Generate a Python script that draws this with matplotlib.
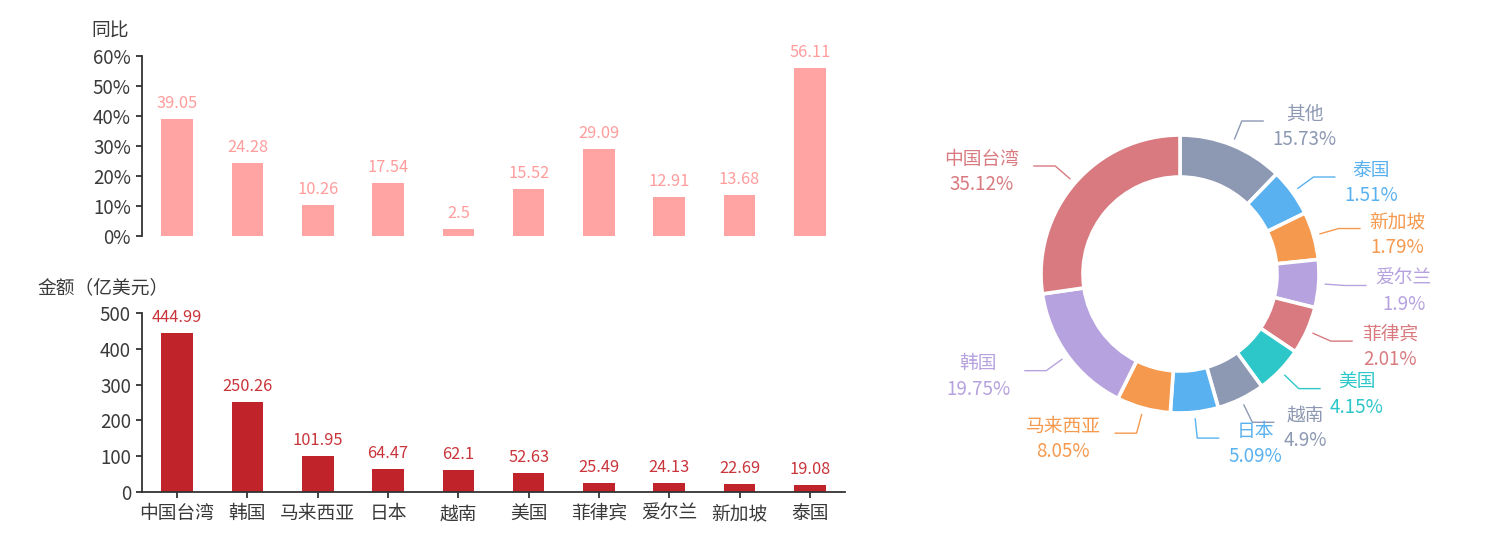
import numpy as np
import matplotlib
matplotlib.use("Agg")
import matplotlib.pyplot as plt

plt.rcParams['font.family'] = ['Noto Sans CJK SC', 'DejaVu Sans']

# ---------------- data ----------------
countries = ['中国台湾', '韩国', '马来西亚', '日本', '越南', '美国', '菲律宾', '爱尔兰', '新加坡', '泰国']
yoy = [39.05, 24.28, 10.26, 17.54, 2.5, 15.52, 29.09, 12.91, 13.68, 56.11]
amount = [444.99, 250.26, 101.95, 64.47, 62.1, 52.63, 25.49, 24.13, 22.69, 19.08]

yoy_ticks = [0, 10, 20, 30, 40, 50, 60]
amount_ticks = [0, 100, 200, 300, 400, 500]

pie_names = ['其他', '泰国', '新加坡', '爱尔兰', '菲律宾', '美国', '越南', '日本', '马来西亚', '韩国', '中国台湾']
pie_share = [15.73, 1.51, 1.79, 1.9, 2.01, 4.15, 4.9, 5.09, 8.05, 19.75, 35.12]
pie_colors = ['#8d98b3', '#5ab1ef', '#f5994e', '#b6a2de', '#d87a80', '#2ec7c9',
              '#8d98b3', '#5ab1ef', '#f5994e', '#b6a2de', '#d87a80']

# ---------------- style ----------------
W, H = 1492, 547
DPI = 100
AX_COLOR = '#333333'
TXT_COLOR = '#3a3a3a'
PINK = '#ffa3a3'
PINK_TXT = '#ff9c9c'
RED = '#c1232b'
RED_TXT = '#c9353b'
TICK_FS = 13.5
VAL_FS = 11.8
PIE_FS = 13.5

fig = plt.figure(figsize=(W / DPI, H / DPI), dpi=DPI)
fig.patch.set_facecolor('white')


def px_box(left, top, right, bottom):
    return [left / W, 1 - bottom / H, (right - left) / W, (bottom - top) / H]


x = np.arange(len(countries))

# ---------------- top bar chart (同比) ----------------
ax1 = fig.add_axes(px_box(142, 56, 845, 236))
ax1.bar(x, yoy, width=0.45, color=PINK, zorder=2)
ax1.set_xlim(-0.5, len(countries) - 0.5)
ax1.set_ylim(0, 60)
ax1.set_yticks(yoy_ticks)
ax1.set_yticklabels([f'{t}%' for t in yoy_ticks])
ax1.set_xticks([])
for s in ['top', 'right', 'bottom']:
    ax1.spines[s].set_visible(False)
ax1.spines['left'].set_color(AX_COLOR)
ax1.spines['left'].set_linewidth(1.3)
ax1.tick_params(axis='y', direction='out', length=4, width=1.3, color=AX_COLOR,
                labelsize=TICK_FS, labelcolor=TXT_COLOR, pad=4)
for xi, v in zip(x, yoy):
    ax1.annotate(f'{v:g}', (xi, v), xytext=(0, 5), textcoords='offset points',
                 ha='center', va='bottom', fontsize=VAL_FS, color=PINK_TXT)
fig.text(110 / W, 1 - 31 / H, '同比', ha='center', va='center', fontsize=TICK_FS, color=TXT_COLOR)

# ---------------- bottom bar chart (金额) ----------------
ax2 = fig.add_axes(px_box(142, 313, 845, 492))
ax2.bar(x, amount, width=0.45, color=RED, zorder=2)
ax2.set_xlim(-0.5, len(countries) - 0.5)
ax2.set_ylim(0, 500)
ax2.set_yticks(amount_ticks)
ax2.set_xticks(x)
ax2.set_xticklabels(countries)
for s in ['top', 'right']:
    ax2.spines[s].set_visible(False)
for s in ['left', 'bottom']:
    ax2.spines[s].set_color(AX_COLOR)
    ax2.spines[s].set_linewidth(1.3)
ax2.tick_params(axis='both', direction='out', length=4, width=1.3, color=AX_COLOR,
                labelsize=TICK_FS, labelcolor=TXT_COLOR, pad=4)
for xi, v in zip(x, amount):
    ax2.annotate(f'{v:g}', (xi, v), xytext=(0, 5), textcoords='offset points',
                 ha='center', va='bottom', fontsize=VAL_FS, color=RED_TXT)
fig.text(103 / W, 1 - 288 / H, '金额（亿美元）', ha='center', va='center', fontsize=TICK_FS, color=TXT_COLOR)

# ---------------- donut ----------------
CX, CY = 1180, 274
R_OUT, R_IN = 139, 97
MIN_ANGLE = 20.0

# echarts-like minAngle layout
share = np.array(pie_share, dtype=float)
raw = share / share.sum() * 360.0
small = raw < MIN_ANGLE
rest = 360.0 - MIN_ANGLE * small.sum()
disp = np.where(small, MIN_ANGLE, share / share[~small].sum() * rest)

ax3 = fig.add_axes([900 / W, 0, (W - 900) / W, 1])
wedges, _ = ax3.pie(disp, startangle=90, counterclock=False, colors=pie_colors,
                    radius=R_OUT, center=(0, 0),
                    wedgeprops=dict(width=R_OUT - R_IN, edgecolor='white', linewidth=2.6))
ax3.set_xlim(900 - CX, W - CX)
ax3.set_ylim(-(H - CY), CY)
ax3.set_aspect('auto')
ax3.axis('off')

fig.canvas.draw()
renderer = fig.canvas.get_renderer()

L1_START, L1_END, L2 = 145, 165, 22
for w, name, val, col in zip(wedges, pie_names, pie_share, pie_colors):
    mid = np.deg2rad((w.theta1 + w.theta2) / 2)
    c, s = np.cos(mid), np.sin(mid)
    x0, y0 = L1_START * c, L1_START * s
    x1, y1 = L1_END * c, L1_END * s
    sign = 1 if c >= 0 else -1
    gap = 9 if sign > 0 else 14
    x2 = x1 + sign * L2
    ax3.plot([x0, x1, x2], [y0, y1, y1], color=col, lw=1.0, solid_capstyle='butt',
             clip_on=False)
    t1 = ax3.text(0, y1 + 7, name, ha='center', va='center', fontsize=PIE_FS, color=col,
                  clip_on=False)
    t2 = ax3.text(0, y1 - 18.5, f'{val:g}%', ha='center', va='center', fontsize=PIE_FS,
                  color=col, clip_on=False)
    wmax = max(t1.get_window_extent(renderer).width, t2.get_window_extent(renderer).width)
    xc = x2 + sign * (gap + wmax / 2)
    t1.set_x(xc)
    t2.set_x(xc)

fig.savefig('out.png', dpi=DPI, facecolor='white')
